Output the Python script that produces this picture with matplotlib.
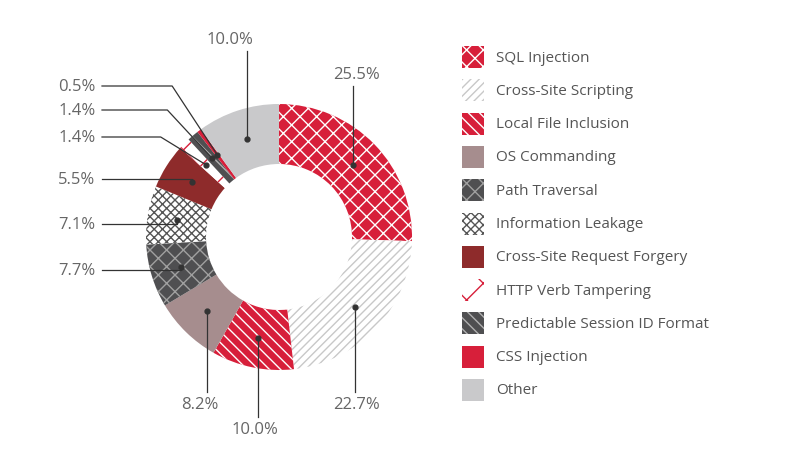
import numpy as np
import matplotlib.pyplot as plt
from matplotlib.patches import Rectangle

plt.rcParams['hatch.linewidth'] = 1.0
plt.rcParams['font.family'] = ['Open Sans', 'DejaVu Sans']

categories = ['SQL Injection', 'Cross-Site Scripting', 'Local File Inclusion', 'OS Commanding',
              'Path Traversal', 'Information Leakage', 'Cross-Site Request Forgery',
              'HTTP Verb Tampering', 'Predictable Session ID Format', 'CSS Injection', 'Other']
values = [25.5, 22.7, 10.0, 8.2, 7.7, 7.1, 5.5, 1.4, 1.4, 0.5, 10.0]
labels = ['25.5%', '22.7%', '10.0%', '8.2%', '7.7%', '7.1%', '5.5%', '1.4%', '1.4%', '0.5%', '10.0%']

faces = ['#d71f3a', 'white', '#d71f3a', '#a68d8e', '#4f4f51', 'white', '#8e2b2b', 'white', '#4f4f51', '#d71f3a', '#c9c9cb']
hatchcols = ['white', '#c8c8c8', 'white', '#a68d8e', '#a0a0a0', '#555555', '#8e2b2b', '#d71f3a', '#b0b0b0', '#d71f3a', '#c9c9cb']
hatches = ['xx', '////', '\\\\\\', None, 'xx', 'xxxx', None, 'x', '\\\\\\', None, None]

# label positions (pixel coords, y up) and leader mode
label_pos = [(356, 75, 'v'), (356, 405, 'v'), (255, 430, 'v'), (200, 405, 'v'),
             (77, 271, 'h'), (77, 225, 'h'), (77, 180, 'h'), (77, 138, 'h'),
             (77, 111, 'h'), (77, 87, 'h'), (230, 40, 'v')]

W, H = 811, 464
fig = plt.figure(figsize=(W / 100, H / 100), dpi=100)
ax = fig.add_axes([0, 0, 1, 1])
ax.set_xlim(0, W)
ax.set_ylim(0, H)
ax.axis('off')

cx, cy, R, width = 279, H - 238, 133, 60
wedges, _ = ax.pie(values, center=(cx, cy), radius=R, startangle=90, counterclock=False,
                   wedgeprops=dict(width=width, linewidth=0), frame=True)
for w, fc, hc, h in zip(wedges, faces, hatchcols, hatches):
    w.set_facecolor(fc)
    w.set_edgecolor(hc)
    if h:
        w.set_hatch(h)
ax.set_xlim(0, W)
ax.set_ylim(0, H)
ax.set_aspect('equal')
ax.axis('off')

rmid = R - width / 2
for w, lab, (lx, ly, mode) in zip(wedges, labels, label_pos):
    ang = np.deg2rad((w.theta1 + w.theta2) / 2)
    dx, dy = cx + rmid * np.cos(ang), cy + rmid * np.sin(ang)
    ly = H - ly
    if mode == 'v':
        ax.plot([dx, dx], [dy, ly + (12 if ly < dy else -12)], color='#333333', lw=0.9)
        ax.text(lx, ly, lab, ha='center', va='center', fontsize=12, color='#666666')
    else:
        ex = dx - 45 if abs(ly - dy) > 5 else dx
        ax.plot([lx + 25, ex, dx], [ly, ly, dy], color='#333333', lw=0.9)
        ax.text(lx, ly, lab, ha='center', va='center', fontsize=12, color='#666666')
    ax.plot(dx, dy, 'o', color='#333333', ms=3.5)

for i, (cat, fc, hc, h) in enumerate(zip(categories, faces, hatchcols, hatches)):
    y = H - (58 + i * 33.3)
    ax.add_patch(Rectangle((462, y - 11), 22, 22, facecolor=fc, edgecolor=hc, hatch=h, lw=0))
    ax.text(496, y, cat, ha='left', va='center', fontsize=11, color='#555555')

fig.savefig('out.png', dpi=100)
